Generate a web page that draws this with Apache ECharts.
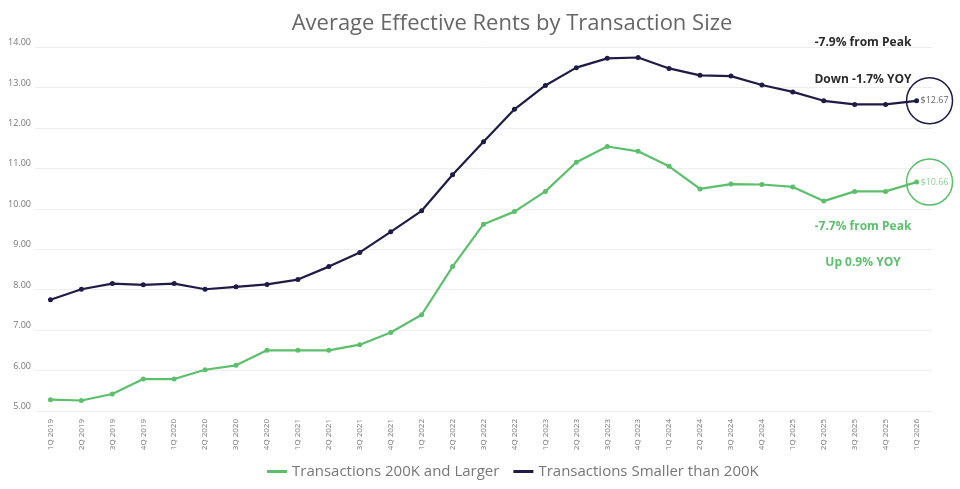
<!DOCTYPE html>
<html><head><meta charset="utf-8">
<script src="https://cdn.jsdelivr.net/npm/echarts@6/dist/echarts.min.js"></script>
<style>html,body{margin:0;padding:0;background:#fff}#c{width:960px;height:489px}</style>
</head><body><div id="c"></div>
<script>
const categories = ['1Q 2019','2Q 2019','3Q 2019','4Q 2019','1Q 2020','2Q 2020','3Q 2020','4Q 2020','1Q 2021','2Q 2021','3Q 2021','4Q 2021','1Q 2022','2Q 2022','3Q 2022','4Q 2022','1Q 2023','2Q 2023','3Q 2023','4Q 2023','1Q 2024','2Q 2024','3Q 2024','4Q 2024','1Q 2025','2Q 2025','3Q 2025','4Q 2025','1Q 2026'];
const largerValues = [5.28,5.26,5.42,5.79,5.79,6.02,6.13,6.50,6.50,6.50,6.64,6.94,7.38,8.57,9.62,9.93,10.43,11.15,11.54,11.42,11.05,10.49,10.61,10.60,10.54,10.19,10.43,10.43,10.66];
const smallerValues = [7.75,8.01,8.15,8.12,8.15,8.01,8.07,8.13,8.25,8.57,8.92,9.43,9.95,10.84,11.66,12.46,13.05,13.49,13.72,13.74,13.47,13.30,13.28,13.06,12.89,12.67,12.58,12.58,12.67];
const seriesNames = ['Transactions 200K and Larger','Transactions Smaller than 200K'];
const yTicks = {min:5, max:14, interval:1};
const calloutLabels = ['$10.66','$12.67'];

const GREEN = '#5cbf6c', NAVY = '#1e1c45';
const chart = echarts.init(document.getElementById('c'));
const font = '"Open Sans", Lato, sans-serif';
function callout(cat, val, label, color, txtColor){
  return {
    symbol:'circle', symbolSize:46, symbolOffset:[13,0],
    itemStyle:{color:'rgba(0,0,0,0)', borderColor:color, borderWidth:1.5},
    label:{show:true, formatter:label, color:txtColor, fontSize:9, fontFamily:font, offset:[5,0]},
    data:[{coord:[cat,val]}], silent:true
  };
}
const last = categories.length-1;
chart.setOption({
  animation:false,
  title:{text:'Average Effective Rents by Transaction Size', left:507, textAlign:'center', top:8,
    textStyle:{fontSize:22, fontWeight:'normal', color:'#666', fontFamily:font}},
  grid:{left:35, right:28, top:47, bottom:78},
  legend:{bottom:5, left:262, itemWidth:20, itemHeight:3, itemGap:14, icon:'rect',
    textStyle:{fontSize:15, color:'#777', fontFamily:font}},
  xAxis:{type:'category', data:categories, boundaryGap:true,
    axisLine:{show:false}, axisTick:{show:false},
    axisLabel:{rotate:90, fontSize:8, color:'#777', fontFamily:font, margin:8, interval:0}},
  yAxis:{type:'value', min:yTicks.min, max:yTicks.max, interval:yTicks.interval,
    axisLine:{show:false}, axisTick:{show:false},
    splitLine:{lineStyle:{color:'#eeeeee', width:1}},
    axisLabel:{formatter:v=>v.toFixed(2), fontSize:9, color:'#777', fontFamily:font, margin:4, verticalAlign:'bottom'}},
  graphic:[
    {type:'text', x:863, y:43, style:{text:'-7.9% from Peak', fill:'#2a2a2a', font:'bold 12px '+font, textAlign:'center', textVerticalAlign:'middle'}},
    {type:'text', x:863, y:80, style:{text:'Down -1.7% YOY', fill:'#2a2a2a', font:'bold 12px '+font, textAlign:'center', textVerticalAlign:'middle'}},
    {type:'text', x:863, y:227, style:{text:'-7.7% from Peak', fill:GREEN, font:'bold 12px '+font, textAlign:'center', textVerticalAlign:'middle'}},
    {type:'text', x:863, y:263, style:{text:'Up 0.9% YOY', fill:GREEN, font:'bold 12px '+font, textAlign:'center', textVerticalAlign:'middle'}}
  ],
  series:[
    {name:seriesNames[0], type:'line', data:largerValues, color:GREEN,
      lineStyle:{width:2.2}, symbol:'circle', symbolSize:5, itemStyle:{color:GREEN},
      markPoint:callout(categories[last], largerValues[last], calloutLabels[0], GREEN, '#8fd39a')},
    {name:seriesNames[1], type:'line', data:smallerValues, color:NAVY,
      lineStyle:{width:2.2}, symbol:'circle', symbolSize:5, itemStyle:{color:NAVY},
      markPoint:callout(categories[last], smallerValues[last], calloutLabels[1], NAVY, '#666')}
  ]
});
</script></body></html>
